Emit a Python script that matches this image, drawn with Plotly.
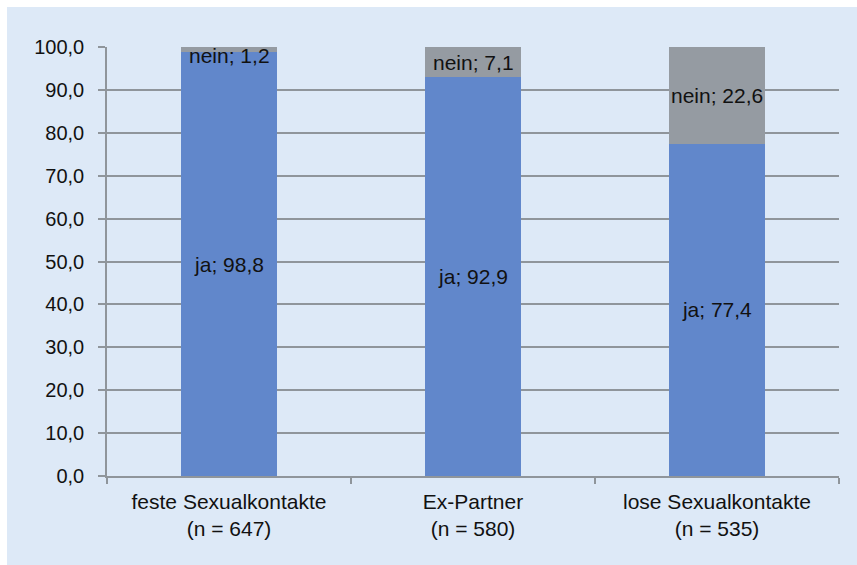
import plotly.graph_objects as go

# Anteil "ja"/"nein" je Kontaktgruppe (in %)
categories = ["feste Sexualkontakte<br>(n = 647)", "Ex-Partner<br>(n = 580)", "lose Sexualkontakte<br>(n = 535)"]
ja_values = [98.8, 92.9, 77.4]
nein_values = [1.2, 7.1, 22.6]
y_ticks = [0, 10, 20, 30, 40, 50, 60, 70, 80, 90, 100]

def fmt(v):
    return f"{v:.1f}".replace(".", ",")

W, H = 857, 565
ML, MR, MT, MB = 107, 18, 47, 89
PANEL = "#dde9f7"
GRID = "#8f959b"
FAMILY = "Liberation Sans, Arial, sans-serif"
TEXT = "#111111"
TICK_FONT = dict(family=FAMILY, size=20, color=TEXT)
CAT_FONT = dict(family=FAMILY, size=21, color=TEXT)
LABEL_FONT = dict(family=FAMILY, size=21, color=TEXT)

fig = go.Figure()
fig.add_trace(go.Bar(
    x=categories, y=ja_values, name="ja",
    marker=dict(color="#6187cb", line=dict(width=0)),
    text=[f"ja; {fmt(v)}" for v in ja_values],
    textposition="inside", insidetextanchor="middle", textangle=0,
    constraintext="none", insidetextfont=LABEL_FONT,
))
fig.add_trace(go.Bar(
    x=categories, y=nein_values, name="nein",
    marker=dict(color="#959ba2", line=dict(width=0)),
    textposition="none",
))

# "nein" labels at the segment centre, kept inside the plot area near the top
ph = H - MT - MB
half_label = 8.0 / ph * 100  # half a text line, in axis units
for cat, ja, nein in zip(categories, ja_values, nein_values):
    yc = min(ja + nein / 2, 100 - half_label)
    fig.add_annotation(x=cat, y=yc, text=f"nein; {fmt(nein)}", showarrow=False,
                       font=LABEL_FONT, xanchor="center", yanchor="middle")

# light blue panel with a thin white frame on the top and left
pw = W - ML - MR
x0 = (7 - ML) / pw
x1 = (W - ML) / pw
y1 = (H - 7 - MB) / ph
y0 = -MB / ph
fig.add_shape(type="rect", xref="paper", yref="paper", x0=x0, x1=x1, y0=y0, y1=y1,
              fillcolor=PANEL, line=dict(width=0), layer="below")

fig.update_layout(
    width=W, height=H,
    margin=dict(l=ML, r=MR, t=MT, b=MB),
    paper_bgcolor="white", plot_bgcolor=PANEL,
    barmode="stack", bargap=0.607,
    showlegend=False,
    font=TICK_FONT,
    uniformtext=dict(minsize=21, mode="show"),
)
fig.update_xaxes(
    showgrid=False, showline=True, linecolor=GRID, linewidth=1.5,
    ticks="outside", tickson="boundaries", ticklen=6, tickcolor=GRID, tickwidth=1.5,
    tickfont=CAT_FONT, ticklabelstandoff=6,
)
fig.update_yaxes(
    range=[0, 100], tickvals=y_ticks, ticktext=[fmt(v) for v in y_ticks],
    showgrid=True, gridcolor=GRID, gridwidth=1.5,
    showline=True, linecolor=GRID, linewidth=1.5,
    ticks="outside", ticklen=7, tickcolor=GRID, tickwidth=1.5,
    tickfont=TICK_FONT, ticklabelstandoff=10, zeroline=False,
)

fig.write_html("out.html")
